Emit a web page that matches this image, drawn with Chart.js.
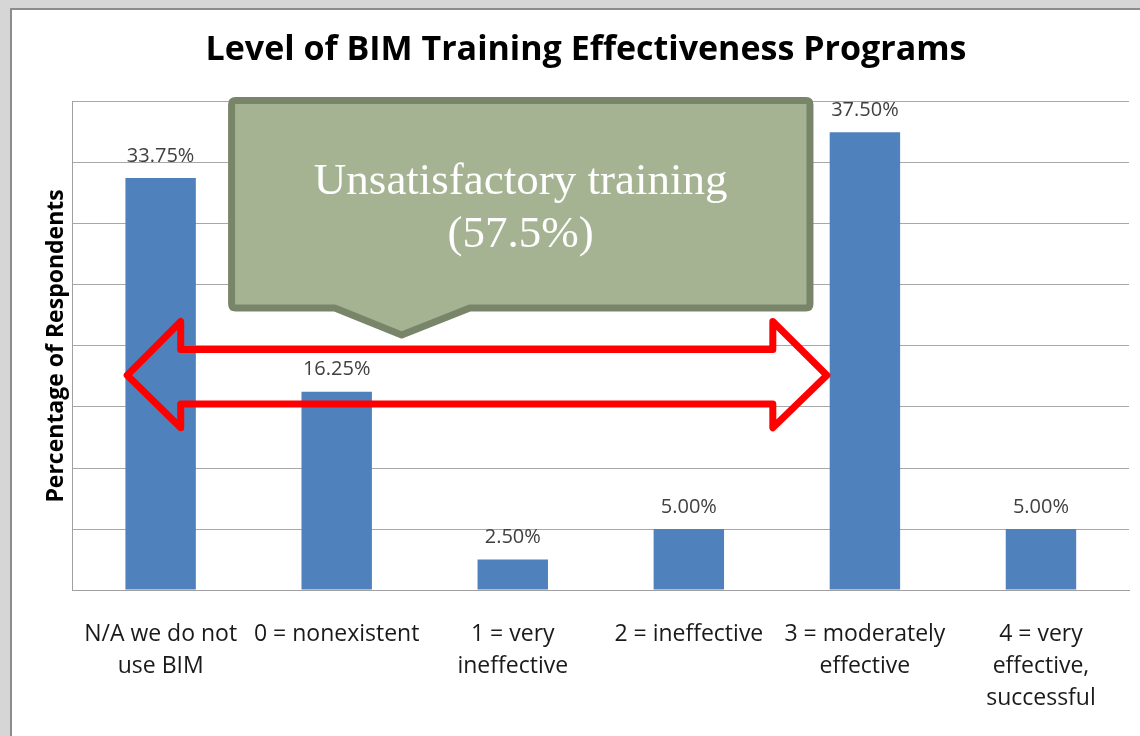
<!DOCTYPE html>
<html>
<head>
<meta charset="utf-8">
<script src="https://cdn.jsdelivr.net/npm/chart.js@4"></script>
<style>
  body { margin: 0; background: #d6d6d6; overflow: hidden; }
  #frame {
    position: absolute; left: 10px; top: 8px; width: 1128px; height: 732px;
    background: #fff; border-left: 2px solid #8c8c8c; border-top: 2px solid #8c8c8c;
  }
</style>
</head>
<body>
<div id="frame"><canvas id="bimChart"></canvas></div>
<script>
// Data
const categories = [
    ["N/A we do not", "use BIM"],
    ["0 = nonexistent"],
    ["1 = very", "ineffective"],
    ["2 = ineffective"],
    ["3 = moderately", "effective"],
    ["4 = very", "effective,", "successful"],
];
const percentages = [33.75, 16.25, 2.5, 5.0, 37.5, 5.0];
const yTicks = [0, 5, 10, 15, 20, 25, 30, 35, 40];
const calloutLines = ["Unsatisfactory training", "(57.5%)"];

const SANS = "'Open Sans', sans-serif";

// Value labels, callout box and red double arrow
const overlayPlugin = {
    id: "overlay",
    afterDatasetsDraw(chart) {
        const ctx = chart.ctx;
        const x = chart.scales.x;
        const y = chart.scales.y;
        const step = x.getPixelForValue(1) - x.getPixelForValue(0);
        const px = (i) => x.getPixelForValue(0) + i * step;
        const py = (v) => y.getPixelForValue(v);

        // value labels
        ctx.save();
        ctx.font = "20px " + SANS;
        ctx.fillStyle = "#404040";
        ctx.textAlign = "center";
        ctx.textBaseline = "middle";
        chart.getDatasetMeta(0).data.forEach((bar, i) => {
            ctx.fillText(percentages[i].toFixed(2) + "%", bar.x, bar.y - 22);
        });
        ctx.restore();

        // callout
        const l = px(0.403), r = px(3.688), t = py(40.1), b = py(23.1);
        const rad = 4;
        ctx.save();
        ctx.beginPath();
        ctx.moveTo(l + rad, t);
        ctx.lineTo(r - rad, t);
        ctx.quadraticCurveTo(r, t, r, t + rad);
        ctx.lineTo(r, b - rad);
        ctx.quadraticCurveTo(r, b, r - rad, b);
        ctx.lineTo(px(1.756), b);
        ctx.lineTo(px(1.369), py(20.9));
        ctx.lineTo(px(0.989), b);
        ctx.lineTo(l + rad, b);
        ctx.quadraticCurveTo(l, b, l, b - rad);
        ctx.lineTo(l, t + rad);
        ctx.quadraticCurveTo(l, t, l + rad, t);
        ctx.closePath();
        ctx.fillStyle = "#a6b393";
        ctx.fill();
        ctx.lineWidth = 7;
        ctx.lineJoin = "round";
        ctx.strokeStyle = "#798569";
        ctx.stroke();
        ctx.fillStyle = "#ffffff";
        ctx.font = "45px 'Liberation Serif', serif";
        ctx.textAlign = "center";
        ctx.textBaseline = "middle";
        ctx.fillText(calloutLines[0], px(2.045), py(33.4));
        ctx.fillText(calloutLines[1], px(2.045), py(29.1));
        ctx.restore();

        // double arrow
        const lt = px(-0.19), lh = px(0.114), rh = px(3.477), rt = px(3.784);
        const mid = py(17.6), sTop = py(19.7), sBot = py(15.25), hTop = py(22), hBot = py(13.3);
        ctx.save();
        ctx.beginPath();
        ctx.moveTo(lt, mid);
        ctx.lineTo(lh, hTop);
        ctx.lineTo(lh, sTop);
        ctx.lineTo(rh, sTop);
        ctx.lineTo(rh, hTop);
        ctx.lineTo(rt, mid);
        ctx.lineTo(rh, hBot);
        ctx.lineTo(rh, sBot);
        ctx.lineTo(lh, sBot);
        ctx.lineTo(lh, hBot);
        ctx.closePath();
        ctx.lineWidth = 7;
        ctx.lineJoin = "round";
        ctx.strokeStyle = "#ff0000";
        ctx.stroke();
        ctx.restore();
    },
};

const ctx = document.getElementById("bimChart").getContext("2d");
new Chart(ctx, {
    type: "bar",
    data: {
        labels: categories,
        datasets: [
            {
                data: percentages,
                backgroundColor: "#4f81bd",
                categoryPercentage: 1,
                barPercentage: 0.4,
            },
        ],
    },
    options: {
        responsive: true,
        maintainAspectRatio: false,
        animation: false,
        layout: { padding: { left: 31, right: 11, bottom: 0 } },
        plugins: {
            legend: { display: false },
            tooltip: { enabled: false },
            title: {
                display: true,
                text: "Level of BIM Training Effectiveness Programs",
                color: "#000",
                font: { family: SANS, size: 34, weight: "bold" },
                padding: { top: 20, bottom: 31 },
            },
        },
        scales: {
            x: {
                grid: { display: false, drawTicks: false },
                border: { display: true, color: "#a0a0a0" },
                ticks: {
                    color: "#1a1a1a",
                    font: { family: SANS, size: 23, lineHeight: 1.39 },
                    padding: 28,
                    maxRotation: 0,
                    autoSkip: false,
                },
            },
            y: {
                min: yTicks[0],
                max: yTicks[yTicks.length - 1],
                afterBuildTicks(scale) {
                    scale.ticks = yTicks.map((v) => ({ value: v }));
                },
                grid: { color: "#a8a8a8", drawTicks: false },
                border: { display: true, color: "#a0a0a0" },
                ticks: { display: false },
                title: {
                    display: true,
                    text: "Percentage of Respondents",
                    color: "#000",
                    font: { family: SANS, size: 23, weight: "bold" },
                    padding: { top: 0, bottom: 2 },
                },
            },
        },
    },
    plugins: [overlayPlugin],
});
</script>
</body>
</html>
